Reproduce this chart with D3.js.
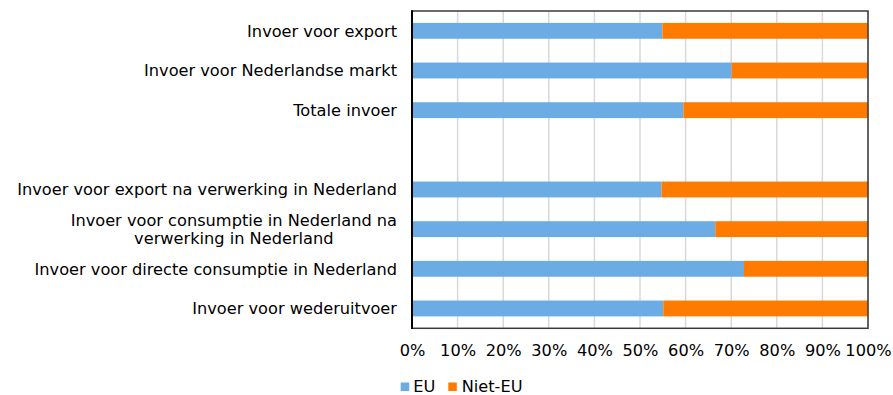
<!DOCTYPE html>
<html>
<head>
<meta charset="utf-8">
<script src="https://cdn.jsdelivr.net/npm/d3@7"></script>
<style>
  html, body { margin: 0; padding: 0; background: #fff; }
  svg { display: block; font-family: "DejaVu Sans", Verdana, sans-serif; }
</style>
</head>
<body>
<svg id="chart" width="893" height="395"></svg>
<script>
// Categories from top to bottom; the empty entry leaves a gap row.
const categories = [
  ["Invoer voor export"],
  ["Invoer voor Nederlandse markt"],
  ["Totale invoer"],
  [],
  ["Invoer voor export na verwerking in Nederland"],
  ["Invoer voor consumptie in Nederland na", "verwerking in Nederland"],
  ["Invoer voor directe consumptie in Nederland"],
  ["Invoer voor wederuitvoer"]
];
// Shares in percent
const euValues     = [54.9, 70.1, 59.5, null, 54.7, 66.5, 72.8, 55.1];
const nietEuValues = [45.1, 29.9, 40.5, null, 45.3, 33.5, 27.2, 44.9];
const seriesNames = ["EU", "Niet-EU"];
const seriesColors = ["#6aace3", "#ff7b00"];
const tickValues = [0, 10, 20, 30, 40, 50, 60, 70, 80, 90, 100];

const svg = d3.select("#chart");
const plotLeft = 412, plotRight = 868, plotTop = 11, plotBottom = 328.3;
const fontSize = 16.2;

const rows = categories.map((lines, i) => ({
  id: "r" + i, lines, eu: euValues[i], niet: nietEuValues[i]
}));

const x = d3.scaleLinear().domain([0, 100]).range([plotLeft, plotRight]);
const y = d3.scaleBand().domain(rows.map(r => r.id)).range([plotTop, plotBottom])
  .paddingInner(0.6).paddingOuter(0.3);

// Vertical gridlines
svg.append("g")
  .selectAll("line")
  .data(tickValues)
  .join("line")
  .attr("x1", d => x(d)).attr("x2", d => x(d))
  .attr("y1", plotTop).attr("y2", plotBottom)
  .attr("stroke", "#d9d9d9")
  .attr("stroke-width", 1.5);

// Stacked bars
const barRows = rows.filter(r => r.eu != null);
svg.append("g").selectAll("rect")
  .data(barRows).join("rect")
  .attr("x", x(0))
  .attr("y", d => y(d.id))
  .attr("width", d => x(d.eu) - x(0))
  .attr("height", y.bandwidth())
  .attr("fill", seriesColors[0]);
svg.append("g").selectAll("rect")
  .data(barRows).join("rect")
  .attr("x", d => x(d.eu))
  .attr("y", d => y(d.id))
  .attr("width", d => x(d.eu + d.niet) - x(d.eu))
  .attr("height", y.bandwidth())
  .attr("fill", seriesColors[1]);

// Plot frame
svg.append("rect")
  .attr("x", plotLeft).attr("y", plotTop)
  .attr("width", plotRight - plotLeft).attr("height", plotBottom - plotTop)
  .attr("fill", "none")
  .attr("stroke", "#3a3a3a")
  .attr("stroke-width", 1.5);
svg.append("line")
  .attr("x1", plotLeft).attr("x2", plotLeft)
  .attr("y1", plotTop - 0.75).attr("y2", plotBottom + 0.75)
  .attr("stroke", "#000")
  .attr("stroke-width", 2);

// Category labels
const labelRight = 397;
const lineGap = 17.5;
const labels = svg.append("g")
  .attr("font-size", fontSize)
  .attr("fill", "#000");
rows.forEach(r => {
  if (!r.lines.length) return;
  const cy = y(r.id) + y.bandwidth() / 2;
  const t = labels.append("text");
  const n = r.lines.length;
  r.lines.forEach((line, i) => {
    t.append("tspan")
      .attr("y", cy + (i - (n - 1) / 2) * lineGap)
      .attr("dy", "0.36em")
      .text(line);
  });
  if (n === 1) {
    t.attr("text-anchor", "end");
    t.selectAll("tspan").attr("x", labelRight);
  } else {
    // wrapped labels are centred on their widest line
    let maxW = 0;
    t.selectAll("tspan").each(function () {
      maxW = Math.max(maxW, this.getComputedTextLength());
    });
    t.attr("text-anchor", "middle");
    t.selectAll("tspan").attr("x", labelRight - maxW / 2);
  }
});

// X axis labels
const xAxis = d3.axisBottom(x)
  .tickValues(tickValues)
  .tickFormat(d => d + "%")
  .tickSize(0)
  .tickPadding(16.7);
const ax = svg.append("g")
  .attr("transform", `translate(0,${plotBottom})`)
  .call(xAxis);
ax.select(".domain").remove();
ax.selectAll("text")
  .attr("font-size", fontSize)
  .attr("font-family", "DejaVu Sans, Verdana, sans-serif")
  .attr("fill", "#000");

// Legend
const legendItems = [
  { name: seriesNames[0], color: seriesColors[0], sx: 400.7, tx: 413.3 },
  { name: seriesNames[1], color: seriesColors[1], sx: 448.3, tx: 461.7 }
];
const lg = svg.append("g");
legendItems.forEach(it => {
  lg.append("rect")
    .attr("x", it.sx).attr("y", 382.5)
    .attr("width", 8.5).attr("height", 8.5)
    .attr("fill", it.color);
  lg.append("text")
    .attr("x", it.tx).attr("y", 391.5)
    .attr("font-size", fontSize)
    .attr("fill", "#000")
    .text(it.name);
});
</script>
</body>
</html>
